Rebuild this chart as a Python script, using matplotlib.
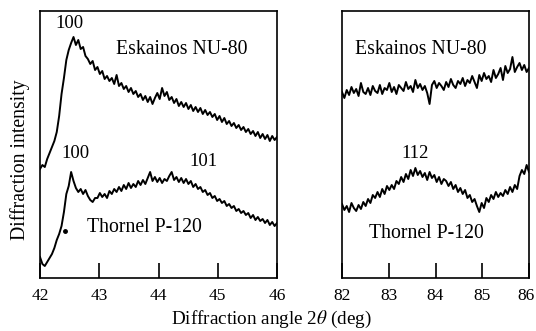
import numpy as np
import matplotlib
matplotlib.use("Agg")
import matplotlib.pyplot as plt
from matplotlib.transforms import ScaledTranslation

plt.rcParams['font.family'] = ['Liberation Serif', 'DejaVu Serif']
plt.rcParams['mathtext.fontset'] = 'stix'

# intensities in arbitrary units, 0 = bottom of frame
eskainos_low = [109, 113, 111, 119, 125, 131, 137, 146, 162, 184,
                200, 218, 228, 235, 241, 233, 238, 229, 231, 222,
                219, 214, 217, 208, 211, 204, 207, 199, 202, 197,
                200, 194, 203, 192, 195, 189, 192, 186, 190, 184,
                187, 181, 184, 178, 182, 176, 181, 174, 180, 185,
                179, 190, 182, 186, 178, 181, 175, 179, 172, 176,
                171, 175, 169, 173, 167, 171, 166, 170, 164, 168,
                163, 166, 161, 164, 158, 162, 156, 160, 154, 157,
                152, 155, 150, 153, 148, 151, 146, 149, 144, 147,
                142, 146, 140, 144, 139, 143, 137, 142, 138, 141]
thornel_low = [21, 14, 12, 16, 20, 24, 30, 38, 44, 52,
               66, 84, 92, 106, 97, 90, 86, 89, 84, 88,
               82, 78, 76, 80, 80, 85, 81, 84, 80, 87,
               84, 89, 86, 91, 87, 93, 89, 95, 90, 94,
               91, 97, 93, 98, 94, 100, 106, 97, 101, 96,
               100, 95, 99, 97, 102, 106, 98, 101, 96, 100,
               95, 99, 94, 97, 91, 94, 89, 91, 86, 88,
               83, 85, 80, 82, 77, 79, 75, 77, 72, 74,
               70, 72, 67, 69, 65, 67, 63, 65, 60, 63,
               58, 61, 57, 59, 55, 58, 53, 56, 52, 55]
eskainos_high = [186, 180, 188, 183, 191, 185, 189, 182, 195, 186,
                 184, 190, 183, 192, 187, 185, 193, 184, 190, 188,
                 195, 186, 191, 184, 193, 190, 187, 196, 189, 192,
                 186, 198, 190, 194, 188, 192, 185, 174, 193, 197,
                 190, 195, 192, 188, 196, 191, 199, 193, 190, 197,
                 194, 200, 192, 198, 195, 202, 196, 190, 203, 197,
                 205, 199, 202, 196, 208, 200, 204, 210, 198, 212,
                 205, 209, 221, 206, 211, 215, 208, 213, 206, 210]
thornel_high = [74, 68, 72, 66, 75, 70, 67, 73, 69,
                76, 72, 79, 75, 83, 80,
                86, 81, 89, 84, 92, 88,
                93, 89, 97, 94, 101, 96,
                104, 99, 108, 102, 110, 103,
                107, 101, 105, 98, 106, 100,
                103, 96, 101, 94, 99, 97,
                92, 96, 89, 93, 86, 90,
                84, 88, 80, 83, 76, 79,
                72, 66, 75, 70, 80, 76,
                83, 79, 86, 81, 85, 82,
                88, 84, 91, 86, 93, 89,
                102, 108, 104, 113, 106]
stray_dot = (42.42, 47)

angle_low = np.linspace(42, 46, len(eskainos_low))
angle_high = np.linspace(82, 86, len(eskainos_high))

fig = plt.figure(figsize=(5.36, 3.31), dpi=100)
ax1 = fig.add_axes([40/536, 53/331, 237/536, 267/331])
ax2 = fig.add_axes([342/536, 53/331, 187/536, 267/331])

ax1.plot(angle_low, eskainos_low, color='black', lw=1.4)
ax1.plot(angle_low, thornel_low, color='black', lw=1.4)
ax1.plot(*stray_dot, 'o', color='black', ms=2.5)
ax2.plot(angle_high, eskainos_high, color='black', lw=1.4)
ax2.plot(angle_high, thornel_high, color='black', lw=1.4)

fs = 12.5
fn = 13.5
fl = 14.2
ax1.text(42.5, 255, '100', fontsize=fn, ha='center', va='center')
ax1.text(42.6, 124, '100', fontsize=fn, ha='center', va='center')
ax1.text(44.76, 117, '101', fontsize=fn, ha='center', va='center')
ax1.text(44.4, 228, 'Eskainos NU-80', fontsize=fl, ha='center', va='center')
ax1.text(43.76, 51, 'Thornel P-120', fontsize=fl, ha='center', va='center')
ax2.text(83.68, 228, 'Eskainos NU-80', fontsize=fl, ha='center', va='center')
ax2.text(83.57, 125, '112', fontsize=fn, ha='center', va='center')
ax2.text(83.8, 45, 'Thornel P-120', fontsize=fl, ha='center', va='center')

for ax, lo in ((ax1, 42), (ax2, 82)):
    ax.set_xlim(lo, lo + 4)
    ax.set_ylim(0, 267)
    ax.set_xticks(range(lo, lo + 5))
    ax.set_yticks([])
    ax.tick_params(axis='x', direction='in', length=11, width=1.2,
                   labelsize=fs, pad=7)
    for s in ax.spines.values():
        s.set_linewidth(1.2)

# last label sits on the figure edge, nudge it in a little
ax2.set_xticks(range(82, 87), ['82', '83', '84', '85', '86'])
last = ax2.get_xticklabels()[-1]
last.set_transform(last.get_transform() + ScaledTranslation(-0.03, 0, fig.dpi_scale_trans))

fig.text(20/536, 1 - 160/331, 'Diffraction intensity', rotation=90,
         fontsize=fl, ha='center', va='center')
fig.text(271/536, 1 - 319/331, r'Diffraction angle 2$\theta$ (deg)',
         fontsize=13.8, ha='center', va='center')

fig.savefig('out.png', dpi=100)
